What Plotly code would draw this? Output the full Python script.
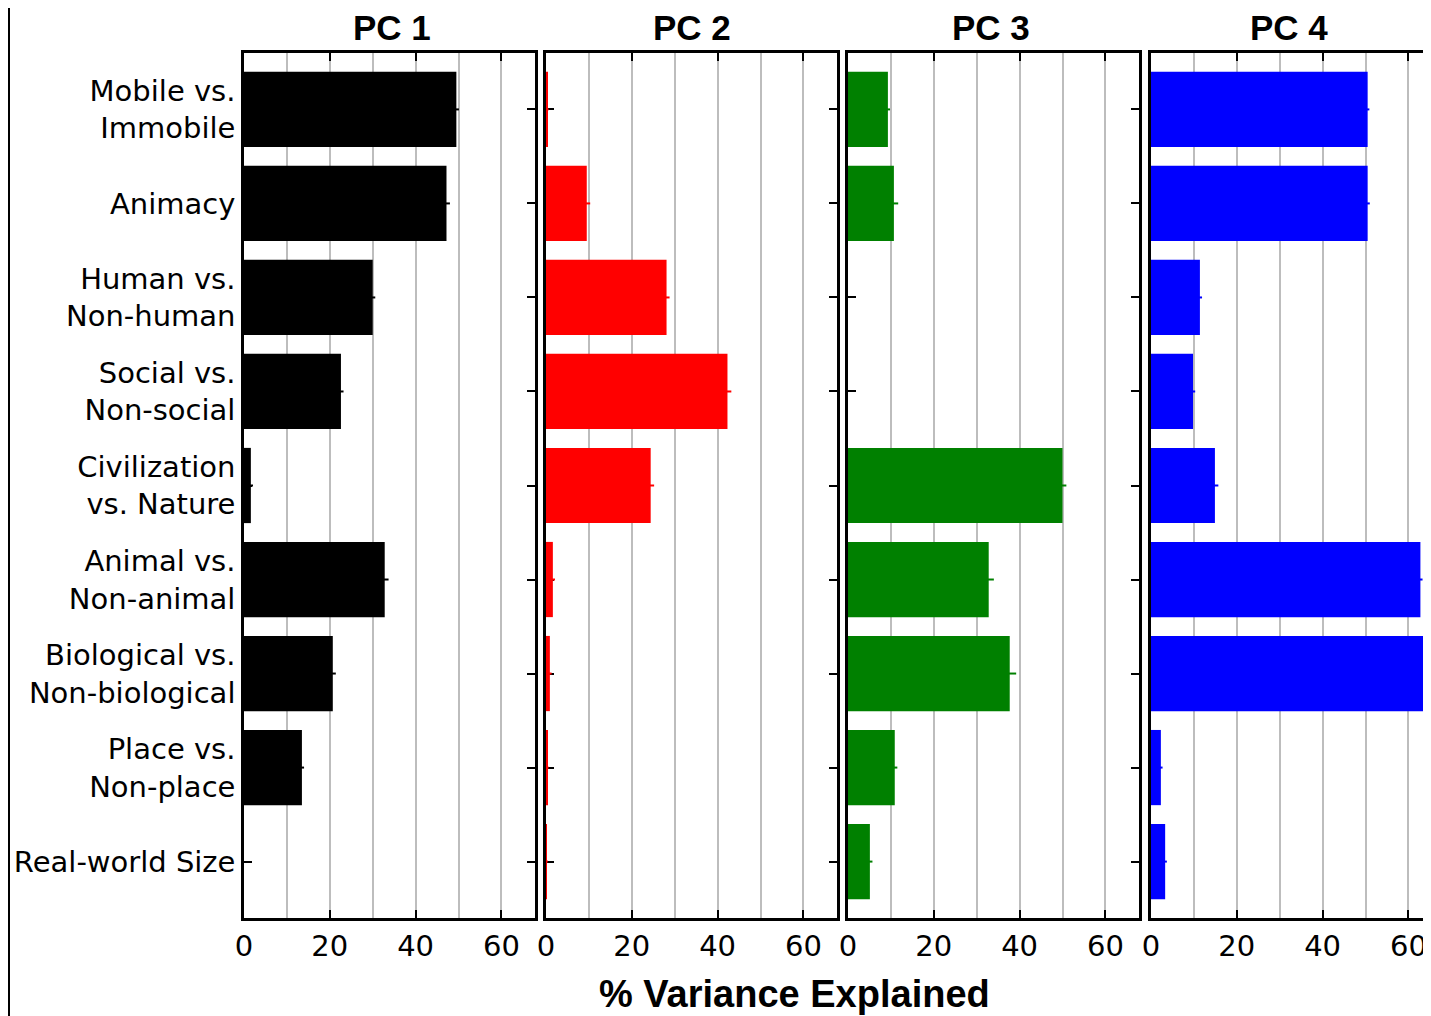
import plotly.graph_objects as go

categories = ["Mobile vs.<br>Immobile", "Animacy", "Human vs.<br>Non-human",
              "Social vs.<br>Non-social", "Civilization<br>vs. Nature",
              "Animal vs.<br>Non-animal", "Biological vs.<br>Non-biological",
              "Place vs.<br>Non-place", "Real-world Size"]

pc_titles = ["PC 1", "PC 2", "PC 3", "PC 4"]
pc_colors = ["#000000", "#ff0000", "#008000", "#0000ff"]

pc1 = [49.5, 47.2, 30.0, 22.6, 1.6, 32.8, 20.7, 13.5, 0.0]
pc2 = [0.3, 9.5, 28.1, 42.3, 24.4, 1.6, 0.9, 0.3, 0.2]
pc3 = [9.3, 10.7, 0.0, 0.0, 50.0, 32.8, 37.7, 10.9, 5.1]
pc4 = [50.5, 50.5, 11.4, 9.8, 14.9, 62.8, 63.5, 2.3, 3.3]

err1 = [0.6, 0.8, 0.6, 0.6, 0.5, 0.9, 0.7, 0.5, 0.0]
err2 = [0.3, 0.8, 0.7, 0.9, 0.8, 0.5, 0.4, 0.3, 0.2]
err3 = [0.5, 1.0, 0.0, 0.0, 0.9, 1.2, 1.5, 0.6, 0.6]
err4 = [0.4, 0.5, 0.5, 0.5, 0.8, 0.5, 0.6, 0.4, 0.4]

values = [pc1, pc2, pc3, pc4]
errors = [err1, err2, err3, err4]

# The page body has an 8px margin, so the figure is offset by 8px in the window.
OFF = 8
W, H = 1431 - OFF, 1016 - OFF
L, T = 244 - OFF, 53 - OFF
B = H - (918 - OFF)
R = 0
PW = W - L - R
PH = H - T - B


def px(x):
    """window pixel x -> paper fraction"""
    return (x - OFF - L) / PW


def py(y):
    """window pixel y -> paper fraction"""
    return (H - B - (y - OFF)) / PH


domains = [(px(244), px(535)), (px(546), px(837)), (px(848), px(1139)), (px(1151), 1.0)]
scale = 4.29  # pixels per percent
ranges = [[0, (d[1] - d[0]) * PW / scale] for d in domains]

fig = go.Figure()
tickfont = dict(family="DejaVu Sans", size=29, color="#000000")

for i in range(4):
    ax = "" if i == 0 else str(i + 1)
    fig.add_trace(go.Bar(
        x=values[i], y=categories, orientation="h",
        marker=dict(color=pc_colors[i], line=dict(width=0)),
        width=0.8,
        error_x=dict(type="data", array=errors[i], color=pc_colors[i], thickness=2, width=0),
        xaxis="x" + ax, yaxis="y" + ax, showlegend=False,
    ))
    xa = dict(domain=list(domains[i]), range=ranges[i], anchor="y" + ax,
              tickvals=[0, 20, 40, 60], ticks="inside", ticklen=8, tickwidth=1.5,
              tickcolor="#000000", showline=True, linecolor="#000000", linewidth=2.5,
              mirror="ticks", showgrid=True, gridcolor="#bdbdbd", gridwidth=1.5,
              minor=dict(tickvals=[10, 30, 50], showgrid=True, gridcolor="#bdbdbd",
                         gridwidth=1.5, ticks=""),
              zeroline=False, tickfont=tickfont, fixedrange=True,
              layer="below traces", ticklabelstandoff=0)
    ya = dict(anchor="x" + ax, range=[8.6, -0.6], type="category",
              categoryorder="array", categoryarray=categories,
              ticks="inside", ticklen=8, tickwidth=1.5, tickcolor="#000000",
              showline=True, linecolor="#000000", linewidth=2.5, mirror="ticks",
              showgrid=False, showticklabels=(i == 0), tickfont=tickfont,
              layer="below traces", ticklabelstandoff=0)
    fig.layout["xaxis" + ax] = xa
    fig.layout["yaxis" + ax] = ya

title_centers = [392, 692, 991, 1289]
annotations = []
for t, c in zip(pc_titles, title_centers):
    annotations.append(dict(text=t, x=px(c), y=py(28), xref="paper", yref="paper",
                            showarrow=False, xanchor="center", yanchor="middle", borderpad=0,
                            font=dict(family="Liberation Sans", size=35, color="#000000", weight="bold")))
annotations.append(dict(text="% Variance Explained", x=px(794), y=py(994), xref="paper", yref="paper",
                        showarrow=False, xanchor="center", yanchor="middle", borderpad=0,
                        font=dict(family="Liberation Sans", size=38, color="#000000", weight="bold")))

shapes = [
    dict(type="rect", xref="paper", yref="paper", x0=px(OFF - 2), x1=px(10), y0=py(1016 + 5), y1=py(OFF - 2),
         fillcolor="#000000", line=dict(width=0), layer="above"),
]

fig.update_layout(width=W, height=H, margin=dict(l=L, r=R, t=T, b=B, autoexpand=False),
                  paper_bgcolor="#ffffff", plot_bgcolor="#ffffff",
                  annotations=annotations, shapes=shapes, bargap=0.2)

fig.write_html("out.html")
